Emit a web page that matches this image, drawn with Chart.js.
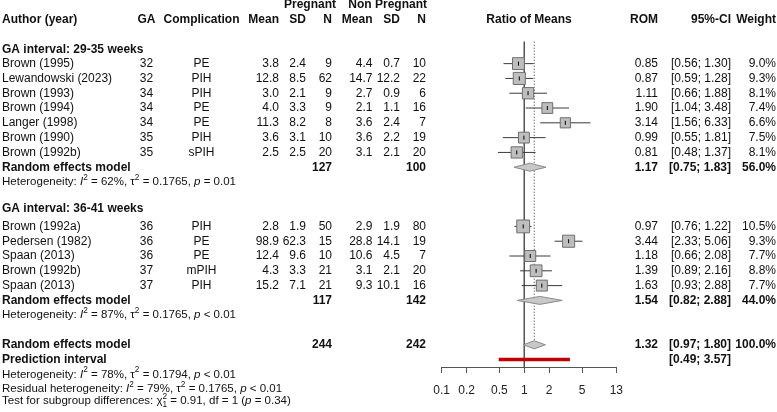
<!DOCTYPE html>
<html>
<head>
<meta charset="utf-8">
<script src="https://cdn.jsdelivr.net/npm/chart.js@4.4.1/dist/chart.umd.min.js"></script>
<style>
  html, body { margin: 0; padding: 0; background: #fff; }
  #wrap { width: 777px; height: 412px; position: relative; }
</style>
</head>
<body>
<div id="wrap"><canvas id="forest"></canvas></div>
<script>
const FONT = '"Liberation Sans", Arial, sans-serif';

// GA interval: 29-35 weeks
const authors1 = ['Brown (1995)', 'Lewandowski (2023)', 'Brown (1993)', 'Brown (1994)', 'Langer (1998)', 'Brown (1990)', 'Brown (1992b)'];
const ga1 = [32, 32, 34, 34, 34, 35, 35];
const comp1 = ['PE', 'PIH', 'PIH', 'PE', 'PE', 'PIH', 'sPIH'];
const meanP1 = [3.8, 12.8, 3.0, 4.0, 11.3, 3.6, 2.5];
const sdP1 = [2.4, 8.5, 2.1, 3.3, 8.2, 3.1, 2.5];
const nP1 = [9, 62, 9, 9, 8, 10, 20];
const meanN1 = [4.4, 14.7, 2.7, 2.1, 3.6, 3.6, 3.1];
const sdN1 = [0.7, 12.2, 0.9, 1.1, 2.4, 2.2, 2.1];
const nN1 = [10, 22, 6, 16, 7, 19, 20];
const rom1 = [0.85, 0.87, 1.11, 1.90, 3.14, 0.99, 0.81];
const lo1 = [0.56, 0.59, 0.66, 1.04, 1.56, 0.55, 0.48];
const hi1 = [1.30, 1.28, 1.88, 3.48, 6.33, 1.81, 1.37];
const w1 = [9.0, 9.3, 8.1, 7.4, 6.6, 7.5, 8.1];

// GA interval: 36-41 weeks
const authors2 = ['Brown (1992a)', 'Pedersen (1982)', 'Spaan (2013)', 'Brown (1992b)', 'Spaan (2013)'];
const ga2 = [36, 36, 36, 37, 37];
const comp2 = ['PIH', 'PE', 'PE', 'mPIH', 'PIH'];
const meanP2 = [2.8, 98.9, 12.4, 4.3, 15.2];
const sdP2 = [1.9, 62.3, 9.6, 3.3, 7.1];
const nP2 = [50, 15, 10, 21, 21];
const meanN2 = [2.9, 28.8, 10.6, 3.1, 9.3];
const sdN2 = [1.9, 14.1, 4.5, 2.1, 10.1];
const nN2 = [80, 19, 7, 20, 16];
const rom2 = [0.97, 3.44, 1.18, 1.39, 1.63];
const lo2 = [0.76, 2.33, 0.66, 0.89, 0.93];
const hi2 = [1.22, 5.06, 2.08, 2.16, 2.88];
const w2 = [10.5, 9.3, 7.7, 8.8, 7.7];

// random effects models: subgroup 1, subgroup 2, overall
const sumNP = [127, 117, 244];
const sumNN = [100, 142, 242];
const sumRom = [1.17, 1.54, 1.32];
const sumLo = [0.75, 0.82, 0.97];
const sumHi = [1.83, 2.88, 1.80];
const sumW = [56.0, 44.0, 100.0];
const predLo = 0.49;
const predHi = 3.57;

// heterogeneity: subgroup 1, subgroup 2, overall, residual
const hetI2 = ['62%', '87%', '78%', '79%'];
const hetTau2 = ['0.1765', '0.1765', '0.1794', '0.1765'];
const hetP = ['= 0.01', '< 0.01', '< 0.01', '< 0.01'];
const subgroupChi = '0.91';
const subgroupDf = '1';
const subgroupP = '0.34';

const groupLabels = ['GA interval: 29-35 weeks', 'GA interval: 36-41 weeks'];
const xTicks = [0.1, 0.2, 0.5, 1, 2, 5, 13];

// row layout (row index on the y scale)
const g1Rows = authors1.map((_, i) => i);
const g1Sum = authors1.length;
const g1Het = g1Sum + 1;
const g2Label = g1Het + 1.8;
const g2Rows = authors2.map((_, i) => g1Het + 3 + i);
const g2Sum = g2Rows[g2Rows.length - 1] + 1;
const g2Het = g2Sum + 1;
const allSum = g2Het + 2;
const predRow = allSum + 1;
const sumRows = [g1Sum, g2Sum, allSum];

const allRows = g1Rows.concat(g2Rows);
const allRom = rom1.concat(rom2);
const allLo = lo1.concat(lo2);
const allHi = hi1.concat(hi2);
const allW = w1.concat(w2);

// CI segments, broken by null points
const ciData = [];
allRows.forEach((r, i) => {
  ciData.push({ x: allLo[i], y: r }, { x: allHi[i], y: r }, { x: allHi[i], y: null });
});

const diamondPlugin = {
  id: 'diamonds',
  afterDatasetsDraw(chart) {
    const { ctx, scales: { x, y } } = chart;
    const h = 0.27;
    ctx.save();
    ctx.fillStyle = '#c8c8c8';
    ctx.strokeStyle = '#8a8a8a';
    ctx.lineWidth = 1;
    sumRows.forEach((r, i) => {
      ctx.beginPath();
      ctx.moveTo(x.getPixelForValue(sumLo[i]), y.getPixelForValue(r));
      ctx.lineTo(x.getPixelForValue(sumRom[i]), y.getPixelForValue(r - h));
      ctx.lineTo(x.getPixelForValue(sumHi[i]), y.getPixelForValue(r));
      ctx.lineTo(x.getPixelForValue(sumRom[i]), y.getPixelForValue(r + h));
      ctx.closePath();
      ctx.fill();
      ctx.stroke();
    });
    ctx.restore();
  }
};

// draw a line of text made of styled parts (italic, superscript, subscript)
function drawRich(ctx, parts, x, y, size) {
  ctx.textAlign = 'left';
  parts.forEach(p => {
    let f = size, dy = 0;
    if (p.sup) { f = size * 0.72; dy = -size * 0.38; }
    if (p.sub) { f = size * 0.72; dy = size * 0.32; }
    ctx.font = (p.i ? 'italic ' : '') + f + 'px ' + FONT;
    ctx.fillText(p.t, x, y + dy);
    if (!p.stack) x += ctx.measureText(p.t).width;
  });
}

function hetParts(label, i) {
  return [
    { t: label }, { t: 'I', i: true }, { t: '2', sup: true },
    { t: ' = ' + hetI2[i] + ', ' }, { t: '\u03c4' }, { t: '2', sup: true },
    { t: ' = ' + hetTau2[i] + ', ' }, { t: 'p', i: true }, { t: ' ' + hetP[i] }
  ];
}

const col = {
  author: 2, ga: 146.5, comp: 201.5, meanP: 279, sdP: 306, nP: 332,
  meanN: 372.5, sdN: 400, nN: 426, ratio: 529, rom: 658, ci: 731, w: 776
};

const tablePlugin = {
  id: 'table',
  afterDraw(chart) {
    const { ctx, scales: { y } } = chart;
    const yy = r => y.getPixelForValue(r);
    const put = (t, x, r, align, bold) => {
      ctx.font = (bold ? 'bold ' : '') + '12px ' + FONT;
      ctx.textAlign = align;
      ctx.fillText(t, x, yy(r));
    };
    const ci = (a, b) => '[' + a.toFixed(2) + '; ' + b.toFixed(2) + ']';
    ctx.save();
    ctx.fillStyle = '#111';
    ctx.textBaseline = 'middle';

    // column headers
    put('Pregnant', 336, -3.95, 'right', true);
    put('Non Pregnant', 427, -3.95, 'right', true);
    const hr = -2.95;
    put('Author (year)', col.author, hr, 'left', true);
    put('GA', col.ga, hr, 'center', true);
    put('Complication', col.comp, hr, 'center', true);
    put('Mean', col.meanP, hr, 'right', true);
    put('SD', col.sdP, hr, 'right', true);
    put('N', col.nP, hr, 'right', true);
    put('Mean', col.meanN, hr, 'right', true);
    put('SD', col.sdN, hr, 'right', true);
    put('N', col.nN, hr, 'right', true);
    put('Ratio of Means', col.ratio, hr, 'center', true);
    put('ROM', col.rom, hr, 'right', true);
    put('95%-CI', col.ci, hr, 'right', true);
    put('Weight', col.w, hr, 'right', true);

    const groups = [
      { rows: g1Rows, label: -0.92, a: authors1, ga: ga1, c: comp1, mp: meanP1, sp: sdP1, np: nP1, mn: meanN1, sn: sdN1, nn: nN1, rom: rom1, lo: lo1, hi: hi1, w: w1, sum: g1Sum, het: g1Het },
      { rows: g2Rows, label: g2Label, a: authors2, ga: ga2, c: comp2, mp: meanP2, sp: sdP2, np: nP2, mn: meanN2, sn: sdN2, nn: nN2, rom: rom2, lo: lo2, hi: hi2, w: w2, sum: g2Sum, het: g2Het }
    ];
    groups.forEach((g, gi) => {
      put(groupLabels[gi], col.author, g.label, 'left', true);
      g.rows.forEach((r, i) => {
        put(g.a[i], col.author, r, 'left');
        put(String(g.ga[i]), col.ga, r, 'center');
        put(g.c[i], col.comp, r, 'center');
        put(g.mp[i].toFixed(1), col.meanP, r, 'right');
        put(g.sp[i].toFixed(1), col.sdP, r, 'right');
        put(String(g.np[i]), col.nP, r, 'right');
        put(g.mn[i].toFixed(1), col.meanN, r, 'right');
        put(g.sn[i].toFixed(1), col.sdN, r, 'right');
        put(String(g.nn[i]), col.nN, r, 'right');
        put(g.rom[i].toFixed(2), col.rom, r, 'right');
        put(ci(g.lo[i], g.hi[i]), col.ci, r, 'right');
        put(g.w[i].toFixed(1) + '%', col.w, r, 'right');
      });
      put('Random effects model', col.author, g.sum, 'left', true);
      put(String(sumNP[gi]), col.nP, g.sum, 'right', true);
      put(String(sumNN[gi]), col.nN, g.sum, 'right', true);
      put(sumRom[gi].toFixed(2), col.rom, g.sum, 'right', true);
      put(ci(sumLo[gi], sumHi[gi]), col.ci, g.sum, 'right', true);
      put(sumW[gi].toFixed(1) + '%', col.w, g.sum, 'right', true);
      drawRich(ctx, hetParts('Heterogeneity: ', gi), col.author, yy(g.het), 11.5);
    });

    // overall
    put('Random effects model', col.author, allSum, 'left', true);
    put(String(sumNP[2]), col.nP, allSum, 'right', true);
    put(String(sumNN[2]), col.nN, allSum, 'right', true);
    put(sumRom[2].toFixed(2), col.rom, allSum, 'right', true);
    put(ci(sumLo[2], sumHi[2]), col.ci, allSum, 'right', true);
    put(sumW[2].toFixed(1) + '%', col.w, allSum, 'right', true);
    put('Prediction interval', col.author, predRow, 'left', true);
    put(ci(predLo, predHi), col.ci, predRow, 'right', true);
    drawRich(ctx, hetParts('Heterogeneity: ', 2), col.author, yy(predRow + 1), 11.5);
    drawRich(ctx, hetParts('Residual heterogeneity: ', 3), col.author, yy(predRow + 2), 11.5);
    drawRich(ctx, [
      { t: 'Test for subgroup differences: ' }, { t: '\u03c7' },
      { t: '2', sup: true, stack: true }, { t: '1', sub: true },
      { t: ' = ' + subgroupChi + ', df = ' + subgroupDf + ' (' }, { t: 'p', i: true },
      { t: ' = ' + subgroupP + ')' }
    ], col.author, yy(predRow + 2.8), 11.5);
    ctx.restore();
  }
};

new Chart(document.getElementById('forest'), {
  type: 'scatter',
  data: {
    datasets: [
      {
        // point estimate tick inside each square
        data: allRows.map((r, i) => ({ x: allRom[i], y: r })),
        pointStyle: 'line',
        pointRotation: 90,
        pointRadius: 2,
        pointBorderColor: '#000',
        pointBorderWidth: 1
      },
      {
        data: allRows.map((r, i) => ({ x: allRom[i], y: r })),
        pointStyle: 'rect',
        pointRadius: allW.map(w => 2.8 * Math.sqrt(w)),
        pointBackgroundColor: '#bebebe',
        pointBorderColor: '#6e6e6e',
        pointBorderWidth: 1
      },
      {
        type: 'line',
        data: ciData,
        borderColor: '#3a3a3a',
        borderWidth: 1,
        pointRadius: 0,
        spanGaps: false
      },
      {
        // prediction interval
        type: 'line',
        data: [{ x: predLo, y: predRow }, { x: predHi, y: predRow }],
        borderColor: '#c00000',
        borderWidth: 3.5,
        borderCapStyle: 'butt',
        pointRadius: 0
      },
      {
        // overall estimate (dotted)
        type: 'line',
        data: [{ x: sumRom[2], y: -1.48 }, { x: sumRom[2], y: allSum - 0.27 }],
        borderColor: '#333',
        borderWidth: 1,
        borderDash: [1, 2],
        pointRadius: 0
      },
      {
        // line of no effect
        type: 'line',
        data: [{ x: 1, y: -1.48 }, { x: 1, y: 20.5 }],
        borderColor: '#555',
        borderWidth: 1,
        pointRadius: 0
      }
    ]
  },
  options: {
    responsive: true,
    maintainAspectRatio: false,
    animation: false,
    layout: { autoPadding: false, padding: { left: 441.7, right: 160.7, top: 0, bottom: 0 } },
    plugins: {
      legend: { display: false },
      tooltip: { enabled: false }
    },
    scales: {
      x: {
        type: 'logarithmic',
        min: 0.1,
        max: 13,
        afterBuildTicks: function(scale) {
          scale.ticks = xTicks.map(v => ({ value: v }));
        },
        afterFit: function(scale) {
          scale.height = 45;
          scale.paddingLeft = 0;
          scale.paddingRight = 0;
        },
        grid: { drawOnChartArea: false, drawTicks: true, tickLength: 6, color: '#555' },
        border: { display: true, color: '#555' },
        ticks: {
          autoSkip: false,
          maxRotation: 0,
          padding: 10,
          color: '#222',
          font: { family: FONT, size: 12 },
          callback: function(value) { return String(value); }
        }
      },
      y: {
        type: 'linear',
        reverse: true,
        min: -4.3,
        max: 20.5,
        display: false
      }
    }
  },
  plugins: [diamondPlugin, tablePlugin]
});
</script>
</body>
</html>
